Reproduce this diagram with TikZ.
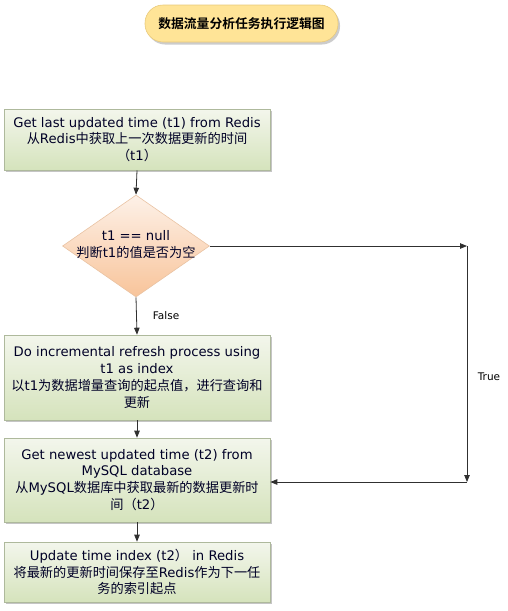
\documentclass[tikz,border=0pt]{standalone}
\usepackage{fontspec}
\setmainfont{DejaVu Sans}
\newfontfamily\cjk{Noto Sans CJK SC}
\newfontfamily\cjkb{Noto Sans CJK SC Bold}
\usetikzlibrary{shapes.geometric,arrows.meta,shadows}
\definecolor{boxtop}{HTML}{F3F6EC}
\definecolor{boxbot}{HTML}{D5E3BC}
\definecolor{boxline}{HTML}{AEB99C}
\definecolor{diatop}{HTML}{FDF1E8}
\definecolor{diabot}{HTML}{F8C49A}
\definecolor{dialine}{HTML}{E9C3A3}
\definecolor{titlefill}{HTML}{FFE497}
\definecolor{titleline}{HTML}{E8C97A}
\definecolor{linec}{HTML}{303030}
\tikzset{
  procbox/.style={rectangle, draw=boxline, line width=0.6pt, top color=boxtop, bottom color=boxbot,
    minimum width=266pt, inner sep=0pt, align=center, text=black!85!blue,
    font=\fontsize{13.2}{16.8}\selectfont,
    drop shadow={shadow xshift=2pt, shadow yshift=-2pt, fill=black!45, opacity=0.5}},
  decbox/.style={diamond, draw=dialine, line width=0.6pt, top color=diatop, bottom color=diabot,
    minimum width=147pt, minimum height=102pt, inner sep=0pt},
  titlebox/.style={rectangle, rounded corners=18pt, draw=titleline, line width=0.6pt, fill=titlefill,
    minimum width=193pt, minimum height=37pt, inner sep=0pt,
    font=\cjkb\fontsize{12.8}{16}\selectfont,
    drop shadow={shadow xshift=2pt, shadow yshift=-2.5pt, fill=black!40, opacity=0.5}},
  arr/.style={draw=linec, line width=0.8pt, -{Triangle[length=7pt,width=5.5pt]}},
  lbl/.style={font=\fontsize{10.5}{12}\selectfont, inner sep=0pt}
}
\begin{document}
\begin{tikzpicture}[x=1pt,y=-1pt]
\useasboundingbox (0,0) rectangle (507,611);
\node[titlebox] (title) at (241.5,23.5) {数据流量分析任务执行逻辑图};
\node[procbox, minimum height=61pt] (b1) at (137,139.5)
  {Get last updated time (t1) from Redis\\{\cjk 从}Redis{\cjk 中获取上一次数据更新的时间}\\{\cjk （}t1{\cjk ）}};
\node[decbox] (d) at (136,246) {};
\node[align=center, inner sep=0pt, font=\fontsize{13.2}{17}\selectfont, text=black!85!blue] (dt) at (136,245)
  {t1 == null\\{\cjk 判断}t1{\cjk 的值是否为空}};
\node[procbox, minimum height=85pt] (b2) at (137,377.5)
  {Do incremental refresh process using\\t1 as index\\{\cjk 以}t1{\cjk 为数据增量查询的起点值，进行查询和}\\{\cjk 更新}};
\node[procbox, minimum height=84pt] (b3) at (137,480)
  {Get newest updated time (t2) from\\MySQL database\\{\cjk 从}MySQL{\cjk 数据库中获取最新的数据更新时}\\{\cjk 间（}t2{\cjk ）}};
\node[procbox, minimum height=60pt] (b4) at (137,572)
  {Update time index (t2{\cjk ）} in Redis\\{\cjk 将最新的更新时间保存至}Redis{\cjk 作为下一任}\\{\cjk 务的索引起点}};
\coordinate (c1) at (467,246);
\coordinate (c2) at (467,482);
\draw[arr] (b1.south) -- (d.north);
\draw[arr] (d.south) -- (b2.north) node[lbl, midway, right=16pt] (f) {False};
\draw[arr] (b2.south) -- (b3.north);
\draw[arr] (b3.south) -- (b4.north);
\draw[arr] (d.east) -- (c1);
\draw[arr] (c1) -- (c2);
\draw[arr] (c2) -- (b3.east |- c2);
\node[lbl] (t) at (489,377) {True};
\end{tikzpicture}
\end{document}
